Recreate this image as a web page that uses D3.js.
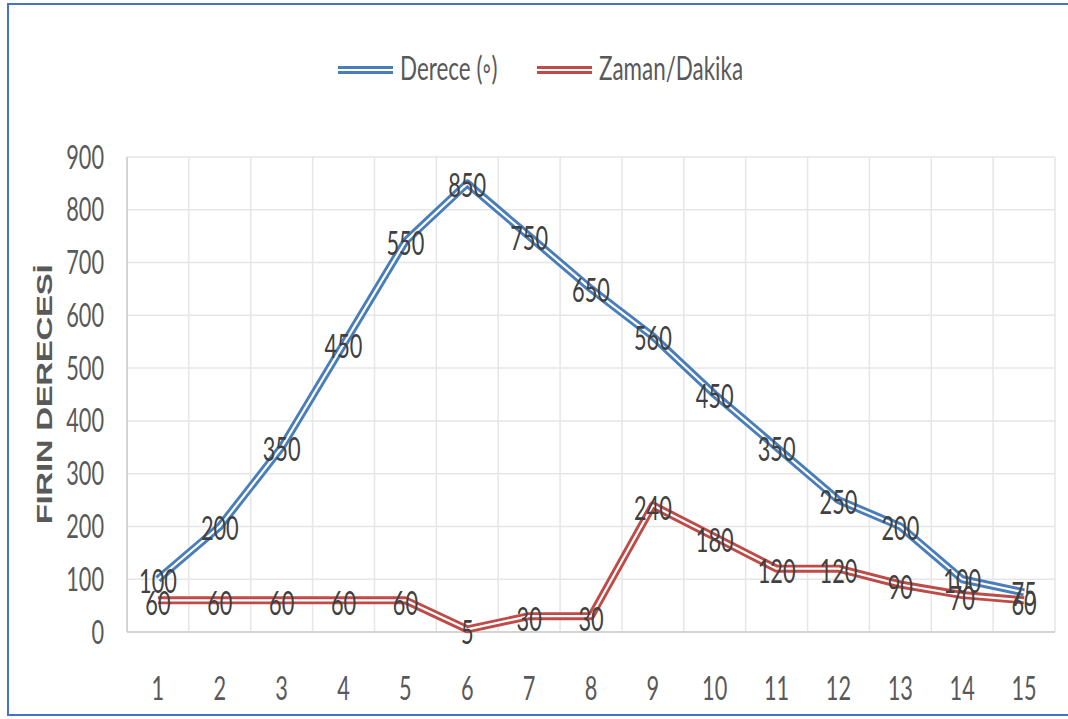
<!DOCTYPE html>
<html>
<head>
<meta charset="utf-8">
<script src="https://cdn.jsdelivr.net/npm/d3@7"></script>
<style>
  body { margin: 0; background: #fff; }
  svg { display: block; }
</style>
</head>
<body>
<div id="chart"></div>
<script>
// data
const steps = [1, 2, 3, 4, 5, 6, 7, 8, 9, 10, 11, 12, 13, 14, 15];
// where the blue line is drawn (points 4 and 5 sit higher than their labels)
const derece = [100, 200, 350, 545, 740, 850, 750, 650, 560, 450, 350, 250, 200, 100, 75];
const dereceLabels = ["100", "200", "350", "450", "550", "850", "750", "650", "560", "450", "350", "250", "200", "100", "75"];
const zaman = [60, 60, 60, 60, 60, 5, 30, 30, 240, 180, 120, 120, 90, 70, 60];
const zamanLabels = ["60", "60", "60", "60", "60", "5", "30", "30", "240", "180", "120", "120", "90", "70", "60"];
const yTicks = [0, 100, 200, 300, 400, 500, 600, 700, 800, 900];
const seriesNames = ["Derece (◦)", "Zaman/Dakika"];

const width = 1068, height = 719;
const plot = {left: 127, right: 1055, top: 157, bottom: 632};
const blue = "#4a7ebb", red = "#be4b48";
const font = "Lato, 'Open Sans', sans-serif";
const sx = 0.68; // squashed text, like the screenshot

const svg = d3.select("#chart")
  .append("svg")
  .attr("width", width)
  .attr("height", height);

// outer frame
svg.append("rect")
  .attr("x", 8).attr("y", 4)
  .attr("width", 1080).attr("height", 711)
  .attr("fill", "none")
  .attr("stroke", "#4472c4")
  .attr("stroke-width", 2);

const x = d3.scaleBand()
  .domain(steps)
  .range([plot.left, plot.right])
  .padding(0);

const y = d3.scaleLinear()
  .domain([0, 900])
  .range([plot.bottom, plot.top]);

const cx = d => x(d) + x.bandwidth() / 2;

const squashText = (g, px, py, str, anchor, size, color) => {
  g.append("text")
    .attr("transform", `translate(${px},${py}) scale(${sx},1)`)
    .attr("text-anchor", anchor)
    .attr("dy", "0.36em")
    .attr("font-family", font)
    .attr("font-size", size)
    .attr("fill", color)
    .text(str);
};

// grid
const grid = svg.append("g");
grid.selectAll("line.h")
  .data(yTicks)
  .enter().append("line")
  .attr("x1", plot.left).attr("x2", plot.right)
  .attr("y1", d => y(d)).attr("y2", d => y(d))
  .attr("stroke", "#e6e6e6")
  .attr("stroke-width", 1.5);

grid.selectAll("line.v")
  .data(steps.slice(1).concat(["end"]))
  .enter().append("line")
  .attr("x1", d => d === "end" ? plot.right : x(d))
  .attr("x2", d => d === "end" ? plot.right : x(d))
  .attr("y1", plot.top).attr("y2", plot.bottom)
  .attr("stroke", "#e6e6e6")
  .attr("stroke-width", 1.5);

// axis lines
svg.append("line")
  .attr("x1", plot.left).attr("x2", plot.right)
  .attr("y1", plot.bottom).attr("y2", plot.bottom)
  .attr("stroke", "#d4d4d4").attr("stroke-width", 2);
svg.append("line")
  .attr("x1", plot.left).attr("x2", plot.left)
  .attr("y1", plot.top).attr("y2", plot.bottom)
  .attr("stroke", "#d4d4d4").attr("stroke-width", 2);

// tick labels
const yAxis = svg.append("g");
yTicks.forEach(t => squashText(yAxis, 104, y(t), t, "end", 32, "#595959"));

const xAxis = svg.append("g");
steps.forEach(s => squashText(xAxis, cx(s), 688, s, "middle", 32, "#595959"));

// y axis title
svg.append("text")
  .attr("transform", `translate(44,${(plot.top + plot.bottom) / 2}) scale(${sx},1) rotate(-90)`)
  .attr("text-anchor", "middle")
  .attr("dy", "0.36em")
  .attr("font-family", "'Liberation Sans', Arial, sans-serif")
  .attr("font-weight", "bold")
  .attr("font-size", 33)
  .attr("letter-spacing", -0.3)
  .attr("fill", "#595959")
  .text("FIRIN DERECESİ");

// double lines
const line = d3.line()
  .x(d => cx(d.s))
  .y(d => y(d.v));

const drawSeries = (vals, color) => {
  const pts = steps.map((s, i) => ({s: s, v: vals[i]}));
  const g = svg.append("g");
  g.append("path").datum(pts)
    .attr("d", line)
    .attr("fill", "none")
    .attr("stroke", color)
    .attr("stroke-width", 8)
    .attr("stroke-linejoin", "round");
  g.append("path").datum(pts)
    .attr("d", line)
    .attr("fill", "none")
    .attr("stroke", "#fff")
    .attr("stroke-width", 2.2)
    .attr("stroke-linejoin", "round");
};

drawSeries(derece, blue);
drawSeries(zaman, red);

// data labels
const labels = svg.append("g");
steps.forEach((s, i) => squashText(labels, cx(s), y(derece[i]) + 2, dereceLabels[i], "middle", 32, "#404040"));
steps.forEach((s, i) => squashText(labels, cx(s), y(zaman[i]) + 3, zamanLabels[i], "middle", 32, "#404040"));

// legend
const legend = svg.append("g");
const legendItems = [
  {name: seriesNames[0], color: blue, x0: 338},
  {name: seriesNames[1], color: red, x0: 537}
];
legendItems.forEach(d => {
  legend.append("line")
    .attr("x1", d.x0).attr("x2", d.x0 + 55)
    .attr("y1", 70).attr("y2", 70)
    .attr("stroke", d.color).attr("stroke-width", 8);
  legend.append("line")
    .attr("x1", d.x0).attr("x2", d.x0 + 55)
    .attr("y1", 70).attr("y2", 70)
    .attr("stroke", "#fff").attr("stroke-width", 2.2);
  squashText(legend, d.x0 + 62, 68, d.name, "start", 33, "#595959");
});
</script>
</body>
</html>
